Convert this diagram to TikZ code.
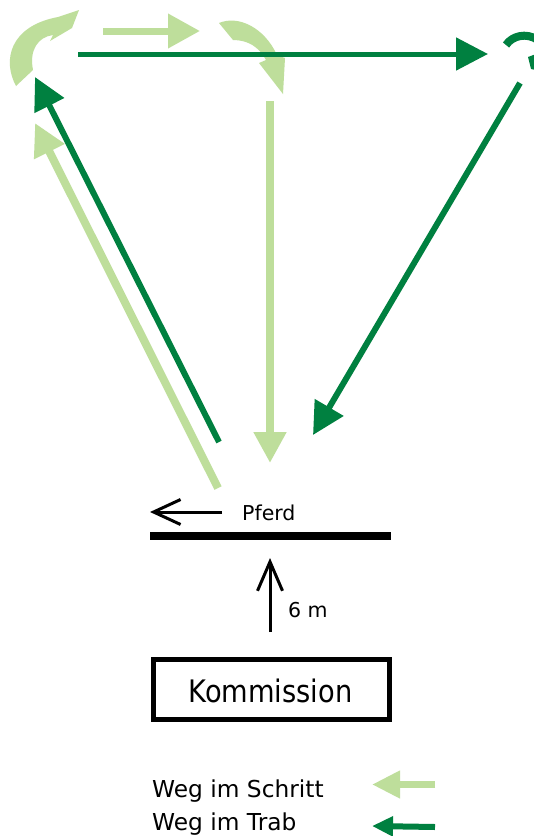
\documentclass[tikz,border=0pt]{standalone}
\usepackage{fontspec}
\setmainfont{DejaVu Sans}
\newfontfamily\narrowfont{DejaVu Sans}[FakeStretch=0.88]
\usetikzlibrary{arrows.meta}
\definecolor{trab}{RGB}{0,128,64}
\definecolor{schritt}{RGB}{190,222,155}
\tikzset{
  trabline/.style={draw=trab, line width=6pt},
  schrittline/.style={draw=schritt, line width=8pt},
  trabhead/.style={-{Triangle[length=32pt,width=32pt]}},
  schritthead/.style={-{Triangle[length=32pt,width=32pt]}},
  blackarrow/.style={draw=black, line width=3pt, -{Straight Barb[length=27pt,width=25pt]}},
  lbl/.style={inner sep=0pt, anchor=base west, font=\fontsize{20.5}{24}\selectfont},
  legendtxt/.style={inner sep=0pt, anchor=base west, font=\fontsize{23.3}{28}\selectfont},
}
\begin{document}
\begin{tikzpicture}[x=1pt,y=-1pt]
\useasboundingbox (0,0) rectangle (534,836);
\fill[white] (0,0) rectangle (534,836);
% coordinates
\coordinate (tS) at (78,54);   \coordinate (tE) at (488,54);
\coordinate (sS) at (103,31);  \coordinate (sE) at (200,31);
\coordinate (vS) at (270,101); \coordinate (vE) at (270,463);
\coordinate (dS) at (520,83);  \coordinate (dE) at (313,435);
\coordinate (lS) at (219,442); \coordinate (lE) at (35,77);
\coordinate (mS) at (218,488); \coordinate (mE) at (35,123);
% curved light arrows
\fill[schritt] (16,86) .. controls (2,60) and (10,26) .. (58,17) -- (79,10) -- (72,28) -- (50,41) -- (53,35) .. controls (38,37) and (29,50) .. (33,70) -- cycle;
\fill[schritt] (219,23) .. controls (238,15) and (264,27) .. (277,55) -- (285,58) -- (283,94) -- (259,63) -- (266,60) .. controls (259,47) and (248,40) .. (233,40) -- cycle;
% light arrows
\draw[schrittline, line width=7pt, -{Triangle[length=32pt,width=33pt]}] (sS) -- (sE);
\draw[schrittline, -{Triangle[length=31pt,width=31pt]}] (vS) -- (vE);
\draw[schrittline, schritthead] (mS) -- (mE);
% dark arrows
\draw[trabline, line width=5pt, trabhead] (tS) -- (tE);
\draw[trabline, trabhead] (dS) -- (dE);
\draw[trabline, trabhead] (lS) -- (lE);
% partial dark turn at top right
\begin{scope}
\clip (0,0) rectangle (534,836);
\draw[trab, line width=8pt] (506,45) .. controls (512,36) and (526,32) .. (538,40);
\fill[trab] (528,57) -- (536,54) -- (536,70) -- (531,69) -- cycle;
\end{scope}
% horse
\coordinate (pS) at (222,512); \coordinate (pE) at (150,512);
\draw[blackarrow] (pS) -- (pE);
\node[lbl] (pferd) at (242,520) {Pferd};
\coordinate (barL) at (150,536); \coordinate (barR) at (391,536);
\draw[line width=8pt] (barL) -- (barR);
\coordinate (uS) at (270,632); \coordinate (uE) at (270,558);
\draw[blackarrow, -{Straight Barb[length=29pt,width=25pt]}] (uS) -- (uE);
\node[lbl] (dist) at (288,617) {6 m};
\node[draw, line width=5pt, minimum width=236pt, minimum height=60pt, inner sep=0pt] (kom) at (271.5,689.5) {};
\node[inner sep=0pt, anchor=base, font=\narrowfont\fontsize{31}{36}\selectfont] (komtxt) at (270.5,702) {Kommission};
% legend
\node[legendtxt] (lg1) at (152,797) {Weg im Schritt};
\node[legendtxt] (lg2) at (152,830) {Weg im Trab};
\coordinate (l1S) at (435,784.5); \coordinate (l1E) at (372,784.5);
\coordinate (l2S) at (435,827); \coordinate (l2E) at (372,826);
\draw[schritt, line width=7pt, -{Triangle[length=28pt,width=26pt]}] (l1S) -- (l1E);
\draw[trab, line width=6pt, -{Triangle[length=21pt,width=19pt]}] (l2S) -- (l2E);
\end{tikzpicture}
\end{document}
